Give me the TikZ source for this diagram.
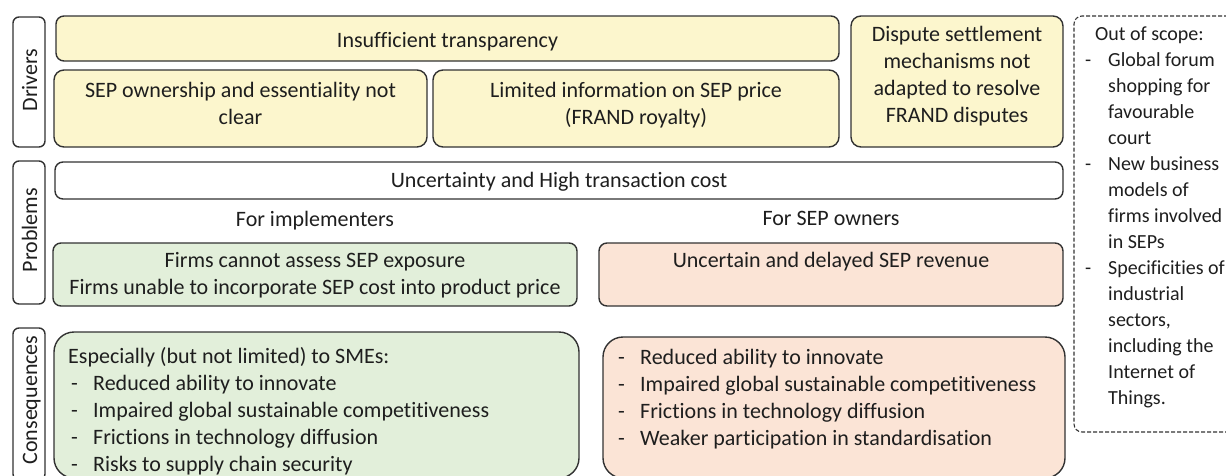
\documentclass[tikz,border=0pt]{standalone}
\usepackage{fontspec}
\setmainfont{Carlito}[Ligatures=CommonOff]
\definecolor{bordc}{RGB}{50,50,50}
\definecolor{txtc}{RGB}{30,30,30}
\definecolor{yel}{RGB}{252,246,205}
\definecolor{grn}{RGB}{226,239,218}
\definecolor{org}{RGB}{251,228,214}
\newcommand{\lns}[2][c]{\begin{tabular}[t]{@{}#1@{}}#2\end{tabular}}
\newcommand{\dsh}[1][22pt]{\makebox[#1][l]{-}}
\begin{document}
\begin{tikzpicture}[x=1pt,y=-1pt,
  box/.style={draw=bordc, line width=1.4pt, rounded corners=8pt, inner sep=0pt},
  lbl/.style={box, fill=white, rounded corners=6pt, minimum width=32pt},
  txt/.style={font=\fontsize{22}{27}\selectfont, text=txtc, inner sep=0pt},
  vtxt/.style={txt, rotate=90, anchor=base},
  scopebox/.style={draw=bordc, line width=1.1pt, dash pattern=on 4pt off 2pt, rounded corners=8pt}
]
\useasboundingbox (0,0) rectangle (1226,475);

% row labels
\node[lbl, minimum height=130pt] (lblD) at (29,82) {};
\node[lbl, minimum height=143pt] (lblP) at (29,232.5) {};
\node[lbl, minimum height=152pt] (lblC) at (29,404) {};
\node[vtxt] (tD) at (37,80) {Drivers};
\node[vtxt] (tP) at (37,230) {Problems};
\node[vtxt] (tC) at (37,400) {Consequences};

% drivers
\node[box, fill=yel, minimum width=783pt, minimum height=45pt] (insuf) at (447.5,38.5) {};
\node[txt, anchor=base] (insuft) at (447.5,47) {Insufficient transparency};
\node[box, fill=yel, minimum width=373pt, minimum height=77pt, rounded corners=10pt] (sep) at (240.5,108.5) {};
\node[txt, anchor=base] (sept) at (240.5,97) {\lns{SEP ownership and essentiality not\\clear}};
\node[box, fill=yel, minimum width=406pt, minimum height=77pt, rounded corners=10pt] (lim) at (636,108.5) {};
\node[txt, anchor=base] (limt) at (636,97) {\lns{Limited information on SEP price\\(FRAND royalty)}};
\node[box, fill=yel, minimum width=212pt, minimum height=131pt, rounded corners=10pt] (disp) at (957,81.5) {};
\node[txt, anchor=base] (dispt) at (957,41) {\lns{Dispute settlement\\mechanisms not\\adapted to resolve\\FRAND disputes}};

% out of scope
\draw[scopebox] (1240,16) -- (1074,16) -- (1074,432) -- (1240,432);
\node[txt, anchor=base west, font=\fontsize{20}{26}\selectfont] (scope) at (1085,40) {\lns[l]{%
\hspace{10pt}Out of scope:\\
\dsh[23pt]Global forum\\
\hspace{23pt}shopping for\\
\hspace{23pt}favourable\\
\hspace{23pt}court\\
\dsh[23pt]New business\\
\hspace{23pt}models of\\
\hspace{23pt}firms involved\\
\hspace{23pt}in SEPs\\
\dsh[23pt]Specificities of\\
\hspace{23pt}industrial\\
\hspace{23pt}sectors,\\
\hspace{23pt}including the\\
\hspace{23pt}Internet of\\
\hspace{23pt}Things.}};

% problems
\node[box, fill=white, minimum width=1008pt, minimum height=37pt] (unc) at (559,180.5) {};
\node[txt, anchor=base] (unct) at (559,187) {Uncertainty and High transaction cost};
\node[txt, anchor=base] (fimp) at (315,226) {For implementers};
\node[txt, anchor=base] (fown) at (831,225) {For SEP owners};
\node[box, fill=grn, minimum width=524pt, minimum height=63pt] (gprob) at (315,274.5) {};
\node[txt, anchor=base] (gprobt) at (315,267) {\lns{Firms cannot assess SEP exposure\\Firms unable to incorporate SEP cost into product price}};
\node[box, fill=org, minimum width=464pt, minimum height=63pt] (oprob) at (831,274.5) {};
\node[txt, anchor=base] (oprobt) at (831,267) {Uncertain and delayed SEP revenue};

% consequences
\node[box, fill=grn, minimum width=525pt, minimum height=146pt, rounded corners=20pt] (gcons) at (316.5,405) {};
\node[txt, anchor=base west] (gconst) at (68,363) {\lns[l]{%
Especially (but not limited) to SMEs:\\
\hspace{3pt}\dsh Reduced ability to innovate\\
\hspace{3pt}\dsh Impaired global sustainable competitiveness\\
\hspace{3pt}\dsh Frictions in technology diffusion\\
\hspace{3pt}\dsh Risks to supply chain security}};
\node[box, fill=org, minimum width=462pt, minimum height=141pt, rounded corners=20pt] (ocons) at (834,407.5) {};
\node[txt, anchor=base west] (oconst) at (618,364) {\lns[l]{%
\dsh Reduced ability to innovate\\
\dsh Impaired global sustainable competitiveness\\
\dsh Frictions in technology diffusion\\
\dsh Weaker participation in standardisation}};
\end{tikzpicture}
\end{document}
